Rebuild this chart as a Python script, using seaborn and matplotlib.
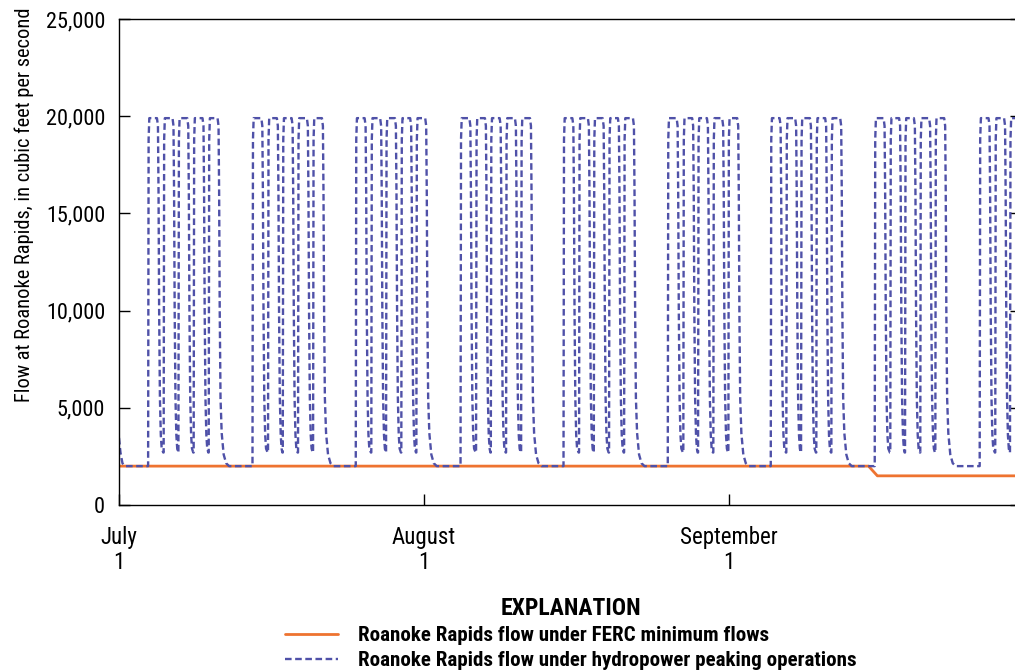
import numpy as np
import pandas as pd
import matplotlib
matplotlib.use("Agg")
import matplotlib.pyplot as plt
import seaborn as sns
from matplotlib.ticker import FuncFormatter, FixedLocator
from matplotlib import font_manager

# ---------------- data ----------------
tick_days = [0, 31, 62]
tick_labels = ["July\n1", "August\n1", "September\n1"]
y_ticks = [0, 5000, 10000, 15000, 20000, 25000]
x_max_day = 91.7

# Roanoke Rapids flow under FERC minimum flows (solid)
ferc_day = [0.0, 76.2, 77.1, 91.7]
ferc_flow = [2000, 2000, 1500, 1500]

# Roanoke Rapids flow under hydropower peaking operations (dashed)
start_day = [0.0, 0.15, 0.35, 0.6]
start_flow = [3450, 2700, 2150, 2000]
group_start_day = [2.98, 13.59, 24.09, 34.74, 45.21, 55.81, 66.28, 76.85, 87.52]
peak_offset_day = [0.0, 1.58, 3.08, 4.63, 6.16]
peaks_in_group = [5, 5, 5, 5, 5, 5, 5, 5, 3]
trough_flow = 2700
base_flow = 2000
# shape of one peak: days after the rise, flow
top_dt = [0.03, 0.10, 0.88, 0.98]
top_flow = [18800, 19900, 19900, 19500]
fall_dt = [1.04, 1.10, 1.18, 1.27, 1.36]
fall_flow = [16000, 10000, 5500, 3600, 2900]
decay_dt = [1.04, 1.10, 1.18, 1.30, 1.50, 1.75, 2.05]
decay_flow = [16000, 10000, 5500, 3700, 2600, 2150, 2000]

# ---------------- assemble the series ----------------
xs, ys = list(start_day), list(start_flow)
for g, n in zip(group_start_day, peaks_in_group):
    rises = [g + o for o in peak_offset_day[:n]]
    for i, r in enumerate(rises):
        xs.append(r - 0.02)
        ys.append(base_flow if i == 0 else trough_flow)
        xs += [r + d for d in top_dt]
        ys += top_flow
        if i < n - 1:
            xs += [r + d for d in fall_dt]
            ys += fall_flow
            xs.append(rises[i + 1] - 0.06)
            ys.append(trough_flow)
        elif n == 5:
            xs += [r + d for d in decay_dt]
            ys += decay_flow
        else:
            xs += [r + d for d in fall_dt]
            ys += fall_flow

peak_df = pd.DataFrame({"day": xs, "flow": ys})
ferc_df = pd.DataFrame({"day": ferc_day, "flow": ferc_flow})

# ---------------- plot ----------------
sns.set_theme(style="white")
available = {f.name for f in font_manager.fontManager.ttflist}
narrow_candidates = ["Roboto Condensed", "Liberation Sans Narrow", "Open Sans Condensed",
                     "DejaVu Sans Condensed"]
narrow = [f for f in narrow_candidates if f in available]
base_font = narrow[0] if narrow else "Liberation Sans"
plt.rcParams["font.family"] = [base_font, "DejaVu Sans"]
scale = 1.0 if narrow else 0.86   # shrink a regular-width font to match narrow text widths

W, H = 1015, 672
fig = plt.figure(figsize=(W / 100, H / 100), dpi=100)
ax = fig.add_axes([119 / W, (H - 505) / H, (1021 - 119) / W, 486 / H])

orange = "#EE7330"
blue = "#4F51A8"

sns.lineplot(data=ferc_df, x="day", y="flow", ax=ax, color=orange,
             linewidth=2.0, sort=False, estimator=None,
             label="Roanoke Rapids flow under FERC minimum flows")
sns.lineplot(data=peak_df, x="day", y="flow", ax=ax, color=blue,
             linewidth=1.7, linestyle=(0, (2.8, 1.5)), sort=False, estimator=None,
             label="Roanoke Rapids flow under hydropower peaking operations")

ax.set_xlim(0, x_max_day)
ax.set_ylim(0, 25000)
ax.xaxis.set_major_locator(FixedLocator(tick_days))
ax.set_xticklabels(tick_labels, fontsize=16.5 * scale, linespacing=1.1)
ax.yaxis.set_major_locator(FixedLocator(y_ticks))
ax.yaxis.set_major_formatter(FuncFormatter(lambda v, p: f"{int(v):,}"))
for lab in ax.get_yticklabels():
    lab.set_fontsize(16 * scale)

ax.tick_params(axis="both", direction="in", length=8, width=1, color="black",
               labelcolor="black")
ax.tick_params(axis="y", right=True, left=True, pad=10)
ax.tick_params(axis="x", top=False, bottom=True, pad=15)

for s in ax.spines.values():
    s.set_visible(True)
    s.set_color("black")
    s.set_linewidth(1.0)

ax.set_xlabel("")
ax.set_ylabel("Flow at Roanoke Rapids, in cubic feet per second", fontsize=14.7 * scale,
              color="black")
ax.yaxis.set_label_coords(-0.094, 0.617)

handles, labels = ax.get_legend_handles_labels()
ax.get_legend().remove()
leg = fig.legend(handles, labels, loc="upper center",
                 bbox_to_anchor=(571 / W, 1 - 578 / H), frameon=False,
                 title="EXPLANATION", handlelength=2.55, handletextpad=0.95,
                 labelspacing=0.3, prop={"weight": "bold", "size": 15.1 * scale},
                 title_fontproperties={"weight": "bold", "size": 17 * scale})
for t in leg.get_texts():
    t.set_color("black")
leg.get_title().set_color("black")

fig.savefig("out.png", dpi=100, facecolor="white")
